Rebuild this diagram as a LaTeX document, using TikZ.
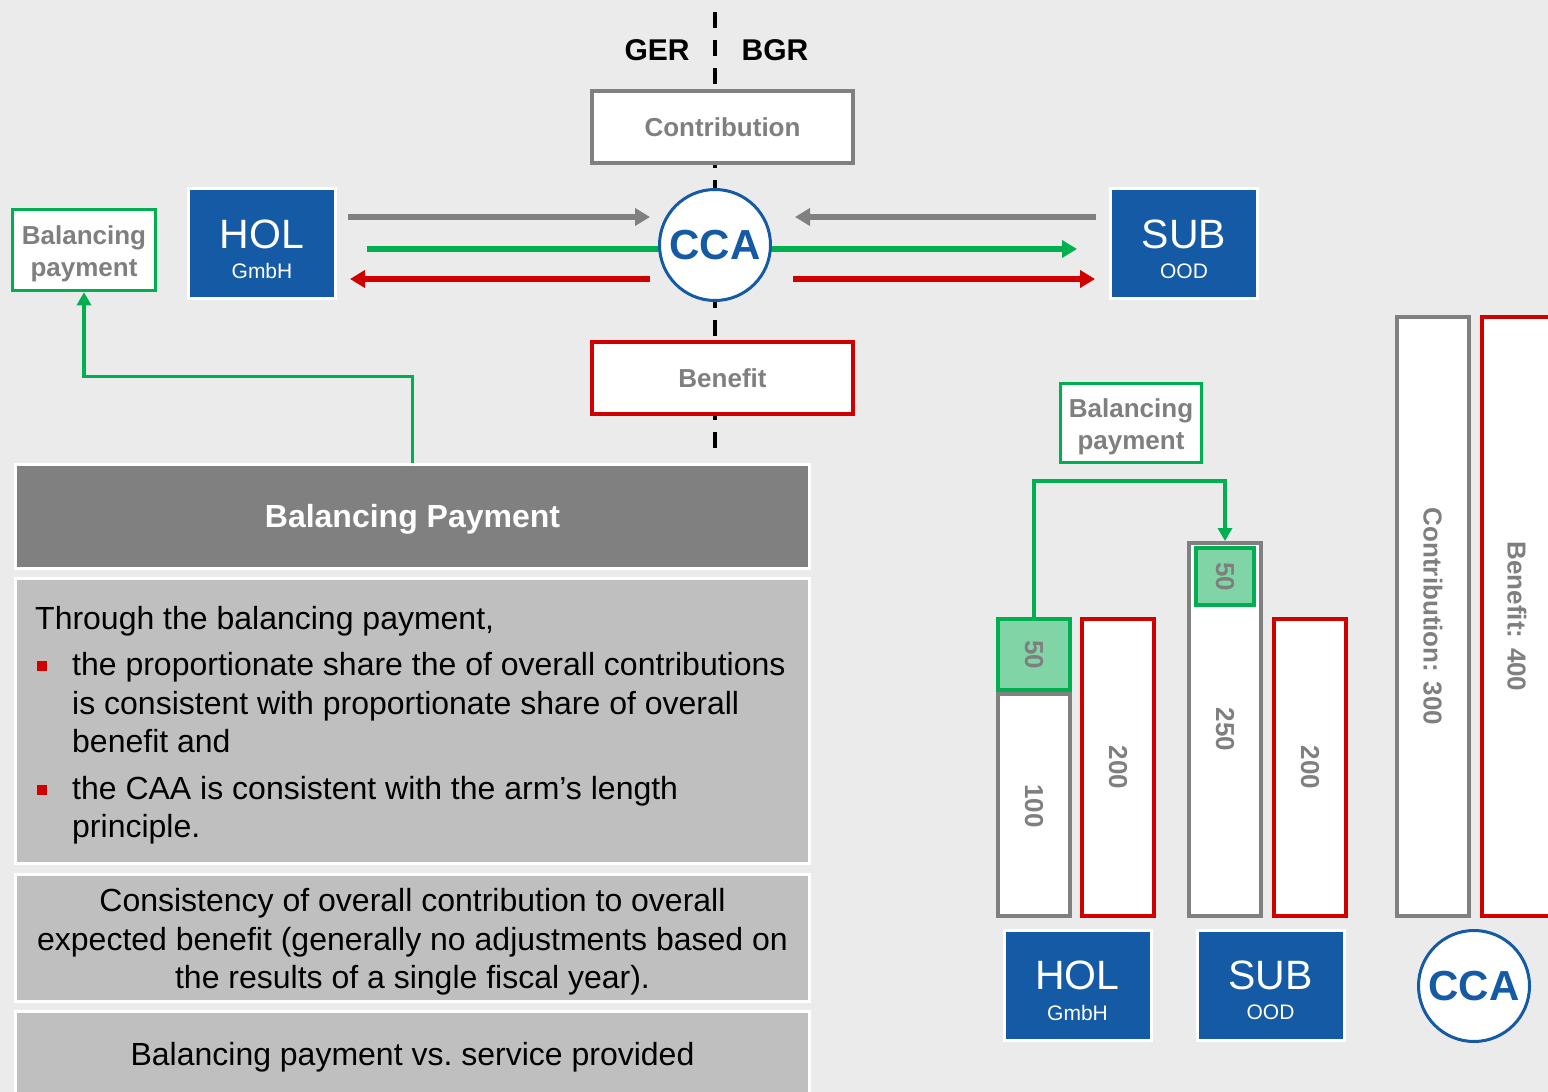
\documentclass[tikz,border=0pt]{standalone}
\usepackage{fontspec}
\setmainfont{Liberation Sans}
\usetikzlibrary{arrows.meta,calc}

\definecolor{bgc}{HTML}{EBEBEB}
\definecolor{corpblue}{HTML}{145AA5}
\definecolor{bpgreen}{HTML}{00B050}
\definecolor{lightgreen}{HTML}{80D4A6}
\definecolor{benred}{HTML}{D00000}
\definecolor{midgray}{HTML}{808080}
\definecolor{txtgray}{HTML}{7F7F7F}
\definecolor{panelgray}{HTML}{BFBFBF}

\newcommand{\setfs}[2]{\fontsize{#1}{#2}\selectfont}

\tikzset{
  bluebox/.style={fill=corpblue, draw=white, line width=3pt,
    minimum width=147pt, minimum height=110pt, inner sep=0pt},
  bigname/.style={text=white, font=\setfs{41}{41}, inner sep=0pt},
  smallname/.style={text=white, font=\setfs{21}{21}, inner sep=0pt},
  labelbox/.style={fill=white, line width=4pt, minimum width=261pt,
    minimum height=72pt, inner sep=0pt, text=txtgray,
    font=\bfseries\setfs{26}{32}},
  bpbox/.style={fill=white, draw=bpgreen, line width=3.5pt, inner sep=0pt},
  bptext/.style={align=center, inner sep=0pt, text=txtgray,
    font=\bfseries\setfs{26}{32.5}},
  ccacircle/.style={circle, fill=white, draw=corpblue, line width=3pt,
    minimum size=111pt, inner sep=0pt, text=corpblue,
    font=\bfseries\setfs{42}{42}},
  flow/.style={line width=6pt, -{Triangle[length=15pt,width=17pt]}},
  link/.style={draw=bpgreen, line width=3.5pt, -{Triangle[length=13pt,width=14pt]}},
  divider/.style={line width=3.5pt, dash pattern=on 16pt off 12pt},
  country/.style={font=\bfseries\setfs{30}{30}, text=black, inner sep=0pt},
  panel/.style={draw=white, line width=3pt, minimum width=794pt, inner sep=0pt},
  bodytext/.style={font=\setfs{32}{39}, text=black, inner sep=0pt},
  redbullet/.style={fill=benred, minimum size=10pt, inner sep=0pt},
  bar/.style={fill=white, line width=4pt, minimum width=72pt, inner sep=0pt},
  barlabel/.style={rotate=-90, font=\bfseries\setfs{26}{26}, text=txtgray, inner sep=0pt},
}

\begin{document}
\begin{tikzpicture}[x=1pt,y=-1pt]
\clip (0,0) rectangle (1548,1092);
\fill[bgc] (0,0) rectangle (1548,1092);

% border line between the two countries
\draw[divider] (715,12) -- (715,452);
\node[country] (ger) at (657,50) {GER};
\node[country] (bgr) at (775,50) {BGR};

% upper scheme
\node[labelbox, draw=midgray] (contrib) at (722.5,127) {Contribution};
\node[labelbox, draw=benred] (benefit) at (722.5,378) {Benefit};

\node[bluebox] (hol) at (262,243.5) {};
\node[bigname] (holname) at ([yshift=9.5pt]hol.center) {HOL};
\node[smallname] (holform) at ([yshift=-27.5pt]hol.center) {GmbH};

\node[bluebox] (sub) at (1184,243.5) {};
\node[bigname] (subname) at ([yshift=9.5pt]sub.center) {SUB};
\node[smallname] (subform) at ([yshift=-27.5pt]sub.center) {OOD};

\node[bpbox, minimum width=143pt, minimum height=81pt] (bpleft) at (84,250) {};
\node[bptext] (bplefttext) at ([yshift=-4pt]bpleft.center) {Balancing\\payment};

% balancing payment flow runs behind the CCA circle
\draw[flow, bpgreen, shorten <=30pt, shorten >=32pt] (hol.east |- 0,249) -- (sub.west |- 0,249);

\node[ccacircle] (cca) at (715,245) {CCA};

\draw[flow, midgray, shorten <=11pt, shorten >=8pt] (hol.east |- 0,217) -- (cca.west |- 0,217);
\draw[flow, midgray, shorten <=13pt, shorten >=23pt] (sub.west |- 0,217) -- (cca.east |- 0,217);
\draw[flow, benred, shorten <=8pt, shorten >=13pt] (cca.west |- 0,279) -- (hol.east |- 0,279);
\draw[flow, benred, shorten <=21pt, shorten >=14pt] (cca.east |- 0,279) -- (sub.west |- 0,279);

% text panels
\node[panel, fill=midgray, minimum height=104pt, text=white, text depth=0pt,
      font=\bfseries\setfs{32}{32}] (bp) at (412.5,516) {Balancing Payment};
\node[panel, fill=panelgray, minimum height=285pt] (p2) at (412.5,720.5) {};
\node[panel, fill=panelgray, minimum height=127pt] (p3) at (412.5,937.5) {};
\node[panel, fill=panelgray, minimum height=90pt] (p4) at (412.5,1056) {};

\draw[link] (bp.north) -- ++(0,-86) -| (bpleft.south);

\node[bodytext, anchor=base west] (t1) at (35,629.5) {Through the balancing payment,};
\node[redbullet] (b1) at (42,666) {};
\node[bodytext, anchor=base west] (t2) at (72,675.5) {the proportionate share the of overall contributions};
\node[bodytext, anchor=base west] (t3) at (72,714.5) {is consistent with proportionate share of overall};
\node[bodytext, anchor=base west] (t4) at (72,752.5) {benefit and};
\node[redbullet] (b2) at (42,790) {};
\node[bodytext, anchor=base west] (t5) at (72,799.5) {the CAA is consistent with the arm’s length};
\node[bodytext, anchor=base west] (t6) at (72,837.5) {principle.};

\node[bodytext, anchor=base] (u1) at (412.5,911.5) {Consistency of overall contribution to overall};
\node[bodytext, anchor=base] (u2) at (412.5,950.5) {expected benefit (generally no adjustments based on};
\node[bodytext, anchor=base] (u3) at (412.5,988.5) {the results of a single fiscal year).};

\node[bodytext, anchor=base] (v1) at (412.5,1065.5) {Balancing payment vs.\ service provided};

% bar chart
\node[bar, draw=midgray, minimum height=222pt] (holc) at (1034,805) {};
\node[bar, draw=bpgreen, fill=lightgreen, minimum height=71pt] (g1) at (1034,654.5) {};
\node[bar, draw=benred, minimum height=297pt] (holb) at (1118,767.5) {};
\node[bar, draw=midgray, minimum height=373pt] (subc) at (1225,729.5) {};
\node[bar, draw=bpgreen, fill=lightgreen, minimum width=58pt, minimum height=57pt] (g2) at (1225,576.5) {};
\node[bar, draw=benred, minimum height=297pt] (subb) at (1310,767.5) {};
\node[bar, draw=midgray, minimum height=599pt] (totc) at (1433,616.5) {};
\node[bar, draw=benred, minimum height=599pt] (totb) at (1518,616.5) {};

\node[barlabel] (lholc) at ([yshift=-1pt]holc.center) {100};
\node[barlabel] (lg1) at (g1.center) {50};
\node[barlabel] (lholb) at (holb.center) {200};
\node[barlabel] (lsubc) at (subc.center) {250};
\node[barlabel] (lg2) at (g2.center) {50};
\node[barlabel] (lsubb) at (subb.center) {200};
\node[barlabel] (ltotc) at (totc.center) {Contribution: 300};
\node[barlabel] (ltotb) at (1517,616.5) {Benefit: 400};

\node[bpbox, minimum width=141pt, minimum height=79pt] (bpright) at (1131,423) {};
\node[bptext] (bprighttext) at ([yshift=-4pt]bpright.center) {Balancing\\payment};
\draw[link] (g1.north) -- ++(0,-136) -| (subc.north);

\node[bluebox] (hol2) at (1077.5,985) {};
\node[bigname] (hol2name) at ([yshift=9.5pt]hol2.center) {HOL};
\node[smallname] (hol2form) at ([yshift=-27.5pt]hol2.center) {GmbH};
\node[bluebox] (sub2) at (1270.5,985) {};
\node[bigname] (sub2name) at ([yshift=9.5pt]sub2.center) {SUB};
\node[smallname] (sub2form) at ([yshift=-27.5pt]sub2.center) {OOD};
\node[ccacircle] (cca2) at (1474,986) {CCA};
\end{tikzpicture}
\end{document}
